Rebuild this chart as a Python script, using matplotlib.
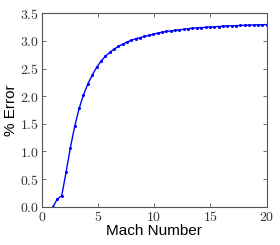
import matplotlib
matplotlib.use("Agg")
import matplotlib.pyplot as plt
from matplotlib.ticker import FuncFormatter

# --- Data ---
mach = [1.00, 1.39, 1.78, 2.16, 2.55, 2.94, 3.33, 3.71, 4.10, 4.49,
        4.88, 5.27, 5.65, 6.04, 6.43, 6.82, 7.20, 7.59, 7.98, 8.37,
        8.76, 9.14, 9.53, 9.92, 10.31, 10.69, 11.08, 11.47, 11.86, 12.24,
        12.63, 13.02, 13.41, 13.80, 14.18, 14.57, 14.96, 15.35, 15.73, 16.12,
        16.51, 16.90, 17.29, 17.67, 18.06, 18.45, 18.84, 19.22, 19.61, 20.00]
pct_error = [0.00, 0.14, 0.20, 0.62, 1.07, 1.46, 1.78, 2.02, 2.22, 2.38,
             2.52, 2.63, 2.72, 2.79, 2.85, 2.90, 2.94, 2.98, 3.01, 3.04,
             3.06, 3.08, 3.10, 3.12, 3.14, 3.155, 3.17, 3.18, 3.19, 3.20,
             3.21, 3.22, 3.23, 3.235, 3.24, 3.245, 3.25, 3.255, 3.26, 3.265,
             3.27, 3.273, 3.276, 3.279, 3.282, 3.285, 3.288, 3.29, 3.292, 3.295]

x_ticks = [0, 5, 10, 15, 20]
y_ticks = [0.0, 0.5, 1.0, 1.5, 2.0, 2.5, 3.0, 3.5]

plt.rcParams['mathtext.fontset'] = 'cm'
plt.rcParams['font.family'] = ['Liberation Sans', 'DejaVu Sans']

fig = plt.figure(figsize=(2.8, 2.45), dpi=100)
ax = fig.add_axes([0.149, 0.156, 0.803, 0.79])

ax.plot(mach, pct_error, color='#0000ff', lw=1.0, marker='o', ms=2.2,
        markeredgewidth=0)

ax.set_xlim(0, 20)
ax.set_ylim(0, 3.5)
ax.set_xticks(x_ticks)
ax.set_yticks(y_ticks)
ax.xaxis.set_major_formatter(FuncFormatter(lambda v, p: r'$%d$' % v))
ax.yaxis.set_major_formatter(FuncFormatter(lambda v, p: r'$%.1f$' % v))
ax.tick_params(direction='in', top=True, right=True, length=3, width=0.5,
               labelsize=10, pad=2, colors='#333333')
for s in ax.spines.values():
    s.set_linewidth(0.8)
    s.set_color('#555555')

ax.set_xlabel('Mach Number', fontsize=11, labelpad=0)
ax.set_ylabel('% Error', fontsize=11, labelpad=1)

fig.savefig('out.png', dpi=100)
